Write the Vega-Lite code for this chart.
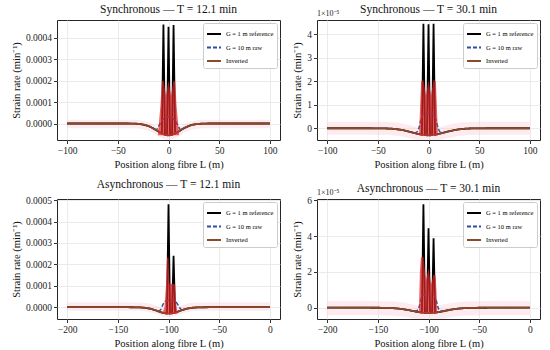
{
  "$schema": "https://vega.github.io/schema/vega-lite/v6.json",
  "padding": {"left": 10, "top": 3, "right": 3, "bottom": 3},
  "config": {
    "font": "Liberation Serif",
    "view": {"stroke": "#262626", "strokeWidth": 1},
    "axis": {"labelFont": "Liberation Serif", "titleFont": "Liberation Serif", "labelFontSize": 9.5, "titleFontSize": 10.5, "titleFontWeight": "normal", "labelColor": "#222222", "titleColor": "#111111", "tickColor": "#333333", "tickSize": 3.5, "domain": false, "grid": true, "gridColor": "#e6e6e6", "gridWidth": 0.8, "labelPadding": 2, "titlePadding": 4, "labelFlush": false, "labelOverlap": false},
    "title": {"font": "Liberation Serif", "fontSize": 11.5, "fontWeight": "normal", "offset": 5, "color": "#111111", "anchor": "middle"},
    "legend": {"orient": "top-right", "offset": 3, "title": null, "symbolType": "stroke", "symbolSize": 196, "symbolStrokeWidth": 1.8, "labelFont": "Liberation Serif", "labelFontSize": 6.5, "labelOffset": 4, "rowPadding": 1.5, "padding": 3, "strokeColor": "#cccccc", "fillColor": "#ffffff", "cornerRadius": 2}
  },
  "data": {"values": [
    {"p":"s12","s":"inv","x":-100,"y":0,"lo":-2.2e-5,"hi":1.8e-5},
    {"p":"s12","s":"inv","x":-40,"y":0,"lo":-2.2e-5,"hi":1.8e-5},
    {"p":"s12","s":"inv","x":-35,"y":-5e-7,"lo":-2.25e-5,"hi":1.75e-5},
    {"p":"s12","s":"inv","x":-30,"y":-1.6e-6,"lo":-2.36e-5,"hi":1.64e-5},
    {"p":"s12","s":"inv","x":-25,"y":-4.8e-6,"lo":-2.68e-5,"hi":1.32e-5},
    {"p":"s12","s":"inv","x":-21,"y":-9.8e-6,"lo":-3.18e-5,"hi":8.2e-6},
    {"p":"s12","s":"inv","x":-18,"y":-1.55e-5,"lo":-3.75e-5,"hi":2.5e-6},
    {"p":"s12","s":"inv","x":-15,"y":-2.28e-5,"lo":-4.48e-5,"hi":-4.8e-6},
    {"p":"s12","s":"inv","x":-12,"y":-3.13e-5,"lo":-5.33e-5,"hi":-1.33e-5},
    {"p":"s12","s":"inv","x":-10,"y":-3.72e-5,"lo":-5.92e-5,"hi":-1.92e-5},
    {"p":"s12","s":"inv","x":-8,"y":-4.28e-5,"lo":-6.48e-5,"hi":-2.48e-5},
    {"p":"s12","s":"inv","x":-6,"y":-4.78e-5,"lo":-6.98e-5,"hi":-2.98e-5},
    {"p":"s12","s":"inv","x":-4,"y":-5.17e-5,"lo":-7.37e-5,"hi":-3.37e-5},
    {"p":"s12","s":"inv","x":-2,"y":-5.41e-5,"lo":-7.61e-5,"hi":-3.61e-5},
    {"p":"s12","s":"inv","x":0,"y":-5.5e-5,"lo":-7.7e-5,"hi":-3.7e-5},
    {"p":"s12","s":"inv","x":2,"y":-5.41e-5,"lo":-7.61e-5,"hi":-3.61e-5},
    {"p":"s12","s":"inv","x":4,"y":-5.17e-5,"lo":-7.37e-5,"hi":-3.37e-5},
    {"p":"s12","s":"inv","x":6,"y":-4.78e-5,"lo":-6.98e-5,"hi":-2.98e-5},
    {"p":"s12","s":"inv","x":8,"y":-4.28e-5,"lo":-6.48e-5,"hi":-2.48e-5},
    {"p":"s12","s":"inv","x":10,"y":-3.72e-5,"lo":-5.92e-5,"hi":-1.92e-5},
    {"p":"s12","s":"inv","x":12,"y":-3.13e-5,"lo":-5.33e-5,"hi":-1.33e-5},
    {"p":"s12","s":"inv","x":15,"y":-2.28e-5,"lo":-4.48e-5,"hi":-4.8e-6},
    {"p":"s12","s":"inv","x":18,"y":-1.55e-5,"lo":-3.75e-5,"hi":2.5e-6},
    {"p":"s12","s":"inv","x":21,"y":-9.8e-6,"lo":-3.18e-5,"hi":8.2e-6},
    {"p":"s12","s":"inv","x":25,"y":-4.8e-6,"lo":-2.68e-5,"hi":1.32e-5},
    {"p":"s12","s":"inv","x":30,"y":-1.6e-6,"lo":-2.36e-5,"hi":1.64e-5},
    {"p":"s12","s":"inv","x":35,"y":-5e-7,"lo":-2.25e-5,"hi":1.75e-5},
    {"p":"s12","s":"inv","x":40,"y":0,"lo":-2.2e-5,"hi":1.8e-5},
    {"p":"s12","s":"inv","x":100,"y":0,"lo":-2.2e-5,"hi":1.8e-5},

    {"p":"s12","s":"ref","x":-100,"y":0},
    {"p":"s12","s":"ref","x":-40,"y":0},
    {"p":"s12","s":"ref","x":-35,"y":-5e-7},
    {"p":"s12","s":"ref","x":-30,"y":-1.6e-6},
    {"p":"s12","s":"ref","x":-25,"y":-4.8e-6},
    {"p":"s12","s":"ref","x":-21,"y":-9.8e-6},
    {"p":"s12","s":"ref","x":-18,"y":-1.55e-5},
    {"p":"s12","s":"ref","x":-15,"y":-2.28e-5},
    {"p":"s12","s":"ref","x":-12,"y":-3.13e-5},
    {"p":"s12","s":"ref","x":-10,"y":-3.72e-5},
    {"p":"s12","s":"ref","x":-8,"y":-4.28e-5},
    {"p":"s12","s":"ref","x":-6.5,"y":-4.66e-5},
    {"p":"s12","s":"ref","x":-5,"y":4.62e-4},
    {"p":"s12","s":"ref","x":-3.5,"y":-5.24e-5},
    {"p":"s12","s":"ref","x":-1.5,"y":-5.45e-5},
    {"p":"s12","s":"ref","x":0,"y":4.52e-4},
    {"p":"s12","s":"ref","x":1.5,"y":-5.45e-5},
    {"p":"s12","s":"ref","x":3.5,"y":-5.24e-5},
    {"p":"s12","s":"ref","x":5,"y":4.6e-4},
    {"p":"s12","s":"ref","x":6.5,"y":-4.66e-5},
    {"p":"s12","s":"ref","x":8,"y":-4.28e-5},
    {"p":"s12","s":"ref","x":10,"y":-3.72e-5},
    {"p":"s12","s":"ref","x":12,"y":-3.13e-5},
    {"p":"s12","s":"ref","x":15,"y":-2.28e-5},
    {"p":"s12","s":"ref","x":18,"y":-1.55e-5},
    {"p":"s12","s":"ref","x":21,"y":-9.8e-6},
    {"p":"s12","s":"ref","x":25,"y":-4.8e-6},
    {"p":"s12","s":"ref","x":30,"y":-1.6e-6},
    {"p":"s12","s":"ref","x":35,"y":-5e-7},
    {"p":"s12","s":"ref","x":40,"y":0},
    {"p":"s12","s":"ref","x":100,"y":0},

    {"p":"s12","s":"raw","x":-14,"y":-2.56e-5},
    {"p":"s12","s":"raw","x":-12,"y":-2.9e-5},
    {"p":"s12","s":"raw","x":-10,"y":-1.6e-5},
    {"p":"s12","s":"raw","x":-8,"y":2e-6},
    {"p":"s12","s":"raw","x":-6,"y":1.6e-5},
    {"p":"s12","s":"raw","x":-3,"y":2.9e-5},
    {"p":"s12","s":"raw","x":0,"y":3.2e-5},
    {"p":"s12","s":"raw","x":3,"y":2.9e-5},
    {"p":"s12","s":"raw","x":6,"y":1.6e-5},
    {"p":"s12","s":"raw","x":8,"y":2e-6},
    {"p":"s12","s":"raw","x":10,"y":-1.6e-5},
    {"p":"s12","s":"raw","x":12,"y":-2.9e-5},
    {"p":"s12","s":"raw","x":14,"y":-2.56e-5},

    {"p":"s12","s":"red","x":-10.5,"y":-5.5e-5,"y2":-5.5e-5},
    {"p":"s12","s":"red","x":-8,"y":8e-5,"y2":-5.5e-5},
    {"p":"s12","s":"red","x":-6.6,"y":1.95e-4,"y2":-5.5e-5},
    {"p":"s12","s":"red","x":-5,"y":2.02e-4,"y2":-5.5e-5},
    {"p":"s12","s":"red","x":-2.5,"y":1.3e-4,"y2":-5.5e-5},
    {"p":"s12","s":"red","x":0,"y":2.0e-4,"y2":-5.5e-5},
    {"p":"s12","s":"red","x":2.5,"y":1.3e-4,"y2":-5.5e-5},
    {"p":"s12","s":"red","x":5,"y":2.02e-4,"y2":-5.5e-5},
    {"p":"s12","s":"red","x":6.6,"y":1.95e-4,"y2":-5.5e-5},
    {"p":"s12","s":"red","x":8,"y":8e-5,"y2":-5.5e-5},
    {"p":"s12","s":"red","x":10.5,"y":-5.5e-5,"y2":-5.5e-5},

    {"p":"s30","s":"inv","x":-100,"y":0,"lo":-2.8e-6,"hi":2.8e-6},
    {"p":"s30","s":"inv","x":-60,"y":0,"lo":-2.8e-6,"hi":2.8e-6},
    {"p":"s30","s":"inv","x":-50,"y":-2e-8,"lo":-2.82e-6,"hi":2.78e-6},
    {"p":"s30","s":"inv","x":-40,"y":-1.1e-7,"lo":-2.91e-6,"hi":2.69e-6},
    {"p":"s30","s":"inv","x":-35,"y":-2.4e-7,"lo":-3.04e-6,"hi":2.56e-6},
    {"p":"s30","s":"inv","x":-30,"y":-4.7e-7,"lo":-3.27e-6,"hi":2.33e-6},
    {"p":"s30","s":"inv","x":-25,"y":-8.3e-7,"lo":-3.63e-6,"hi":1.97e-6},
    {"p":"s30","s":"inv","x":-20,"y":-1.31e-6,"lo":-4.11e-6,"hi":1.49e-6},
    {"p":"s30","s":"inv","x":-16,"y":-1.77e-6,"lo":-4.57e-6,"hi":1.03e-6},
    {"p":"s30","s":"inv","x":-13,"y":-2.12e-6,"lo":-4.92e-6,"hi":6.8e-7},
    {"p":"s30","s":"inv","x":-10,"y":-2.44e-6,"lo":-5.24e-6,"hi":3.6e-7},
    {"p":"s30","s":"inv","x":-8,"y":-2.63e-6,"lo":-5.43e-6,"hi":1.7e-7},
    {"p":"s30","s":"inv","x":-6,"y":-2.78e-6,"lo":-5.58e-6,"hi":2e-8},
    {"p":"s30","s":"inv","x":-4,"y":-2.9e-6,"lo":-5.7e-6,"hi":-1e-7},
    {"p":"s30","s":"inv","x":-2,"y":-2.98e-6,"lo":-5.78e-6,"hi":-1.8e-7},
    {"p":"s30","s":"inv","x":0,"y":-3e-6,"lo":-5.8e-6,"hi":-2e-7},
    {"p":"s30","s":"inv","x":2,"y":-2.98e-6,"lo":-5.78e-6,"hi":-1.8e-7},
    {"p":"s30","s":"inv","x":4,"y":-2.9e-6,"lo":-5.7e-6,"hi":-1e-7},
    {"p":"s30","s":"inv","x":6,"y":-2.78e-6,"lo":-5.58e-6,"hi":2e-8},
    {"p":"s30","s":"inv","x":8,"y":-2.63e-6,"lo":-5.43e-6,"hi":1.7e-7},
    {"p":"s30","s":"inv","x":10,"y":-2.44e-6,"lo":-5.24e-6,"hi":3.6e-7},
    {"p":"s30","s":"inv","x":13,"y":-2.12e-6,"lo":-4.92e-6,"hi":6.8e-7},
    {"p":"s30","s":"inv","x":16,"y":-1.77e-6,"lo":-4.57e-6,"hi":1.03e-6},
    {"p":"s30","s":"inv","x":20,"y":-1.31e-6,"lo":-4.11e-6,"hi":1.49e-6},
    {"p":"s30","s":"inv","x":25,"y":-8.3e-7,"lo":-3.63e-6,"hi":1.97e-6},
    {"p":"s30","s":"inv","x":30,"y":-4.7e-7,"lo":-3.27e-6,"hi":2.33e-6},
    {"p":"s30","s":"inv","x":35,"y":-2.4e-7,"lo":-3.04e-6,"hi":2.56e-6},
    {"p":"s30","s":"inv","x":40,"y":-1.1e-7,"lo":-2.91e-6,"hi":2.69e-6},
    {"p":"s30","s":"inv","x":50,"y":-2e-8,"lo":-2.82e-6,"hi":2.78e-6},
    {"p":"s30","s":"inv","x":60,"y":0,"lo":-2.8e-6,"hi":2.8e-6},
    {"p":"s30","s":"inv","x":100,"y":0,"lo":-2.8e-6,"hi":2.8e-6},

    {"p":"s30","s":"ref","x":-100,"y":0},
    {"p":"s30","s":"ref","x":-60,"y":0},
    {"p":"s30","s":"ref","x":-50,"y":-2e-8},
    {"p":"s30","s":"ref","x":-40,"y":-1.1e-7},
    {"p":"s30","s":"ref","x":-35,"y":-2.4e-7},
    {"p":"s30","s":"ref","x":-30,"y":-4.7e-7},
    {"p":"s30","s":"ref","x":-25,"y":-8.3e-7},
    {"p":"s30","s":"ref","x":-20,"y":-1.31e-6},
    {"p":"s30","s":"ref","x":-16,"y":-1.77e-6},
    {"p":"s30","s":"ref","x":-13,"y":-2.12e-6},
    {"p":"s30","s":"ref","x":-10,"y":-2.44e-6},
    {"p":"s30","s":"ref","x":-8,"y":-2.63e-6},
    {"p":"s30","s":"ref","x":-6.5,"y":-2.75e-6},
    {"p":"s30","s":"ref","x":-5,"y":4.45e-5},
    {"p":"s30","s":"ref","x":-3.5,"y":-2.92e-6},
    {"p":"s30","s":"ref","x":-1.5,"y":-2.99e-6},
    {"p":"s30","s":"ref","x":0,"y":4.43e-5},
    {"p":"s30","s":"ref","x":1.5,"y":-2.99e-6},
    {"p":"s30","s":"ref","x":3.5,"y":-2.92e-6},
    {"p":"s30","s":"ref","x":5,"y":4.45e-5},
    {"p":"s30","s":"ref","x":6.5,"y":-2.75e-6},
    {"p":"s30","s":"ref","x":8,"y":-2.63e-6},
    {"p":"s30","s":"ref","x":10,"y":-2.44e-6},
    {"p":"s30","s":"ref","x":13,"y":-2.12e-6},
    {"p":"s30","s":"ref","x":16,"y":-1.77e-6},
    {"p":"s30","s":"ref","x":20,"y":-1.31e-6},
    {"p":"s30","s":"ref","x":25,"y":-8.3e-7},
    {"p":"s30","s":"ref","x":30,"y":-4.7e-7},
    {"p":"s30","s":"ref","x":35,"y":-2.4e-7},
    {"p":"s30","s":"ref","x":40,"y":-1.1e-7},
    {"p":"s30","s":"ref","x":50,"y":-2e-8},
    {"p":"s30","s":"ref","x":60,"y":0},
    {"p":"s30","s":"ref","x":100,"y":0},

    {"p":"s30","s":"raw","x":-14,"y":-2.0e-6},
    {"p":"s30","s":"raw","x":-11.5,"y":-1.6e-6},
    {"p":"s30","s":"raw","x":-9.5,"y":0},
    {"p":"s30","s":"raw","x":-7.5,"y":3.5e-6},
    {"p":"s30","s":"raw","x":-5,"y":6.0e-6},
    {"p":"s30","s":"raw","x":0,"y":6.6e-6},
    {"p":"s30","s":"raw","x":5,"y":6.0e-6},
    {"p":"s30","s":"raw","x":7.5,"y":3.5e-6},
    {"p":"s30","s":"raw","x":9.5,"y":0},
    {"p":"s30","s":"raw","x":11.5,"y":-1.6e-6},
    {"p":"s30","s":"raw","x":14,"y":-2.0e-6},

    {"p":"s30","s":"red","x":-9.3,"y":-3e-6,"y2":-3e-6},
    {"p":"s30","s":"red","x":-8.2,"y":1.0e-5,"y2":-3e-6},
    {"p":"s30","s":"red","x":-7.3,"y":2.0e-5,"y2":-3e-6},
    {"p":"s30","s":"red","x":-5,"y":2.05e-5,"y2":-3e-6},
    {"p":"s30","s":"red","x":-2.5,"y":1.4e-5,"y2":-3e-6},
    {"p":"s30","s":"red","x":0,"y":2.05e-5,"y2":-3e-6},
    {"p":"s30","s":"red","x":2.5,"y":1.4e-5,"y2":-3e-6},
    {"p":"s30","s":"red","x":5,"y":2.05e-5,"y2":-3e-6},
    {"p":"s30","s":"red","x":7.3,"y":2.0e-5,"y2":-3e-6},
    {"p":"s30","s":"red","x":8.2,"y":1.0e-5,"y2":-3e-6},
    {"p":"s30","s":"red","x":9.3,"y":-3e-6,"y2":-3e-6},
    {"p":"s30","s":"exp","x":-110,"y":4.61e-5,"t":"1×10⁻⁵"},

    {"p":"a12","s":"inv","x":-200,"y":0,"lo":-1.6e-5,"hi":2.3e-5},
    {"p":"a12","s":"inv","x":-140,"y":0,"lo":-1.6e-5,"hi":2.3e-5},
    {"p":"a12","s":"inv","x":-130,"y":-5.5e-7,"lo":-1.655e-5,"hi":2.245e-5},
    {"p":"a12","s":"inv","x":-125,"y":-1.86e-6,"lo":-1.786e-5,"hi":2.114e-5},
    {"p":"a12","s":"inv","x":-120,"y":-5.07e-6,"lo":-2.107e-5,"hi":1.793e-5},
    {"p":"a12","s":"inv","x":-116,"y":-9.6e-6,"lo":-2.56e-5,"hi":1.34e-5},
    {"p":"a12","s":"inv","x":-113,"y":-1.42e-5,"lo":-3.02e-5,"hi":8.8e-6},
    {"p":"a12","s":"inv","x":-110,"y":-1.92e-5,"lo":-3.52e-5,"hi":3.8e-6},
    {"p":"a12","s":"inv","x":-108,"y":-2.26e-5,"lo":-3.86e-5,"hi":4e-7},
    {"p":"a12","s":"inv","x":-106,"y":-2.56e-5,"lo":-4.16e-5,"hi":-2.6e-6},
    {"p":"a12","s":"inv","x":-104,"y":-2.79e-5,"lo":-4.39e-5,"hi":-4.9e-6},
    {"p":"a12","s":"inv","x":-102,"y":-2.95e-5,"lo":-4.55e-5,"hi":-6.5e-6},
    {"p":"a12","s":"inv","x":-100,"y":-3.0e-5,"lo":-4.6e-5,"hi":-7e-6},
    {"p":"a12","s":"inv","x":-98,"y":-2.95e-5,"lo":-4.55e-5,"hi":-6.5e-6},
    {"p":"a12","s":"inv","x":-96,"y":-2.79e-5,"lo":-4.39e-5,"hi":-4.9e-6},
    {"p":"a12","s":"inv","x":-94,"y":-2.56e-5,"lo":-4.16e-5,"hi":-2.6e-6},
    {"p":"a12","s":"inv","x":-92,"y":-2.26e-5,"lo":-3.86e-5,"hi":4e-7},
    {"p":"a12","s":"inv","x":-90,"y":-1.92e-5,"lo":-3.52e-5,"hi":3.8e-6},
    {"p":"a12","s":"inv","x":-87,"y":-1.42e-5,"lo":-3.02e-5,"hi":8.8e-6},
    {"p":"a12","s":"inv","x":-84,"y":-9.6e-6,"lo":-2.56e-5,"hi":1.34e-5},
    {"p":"a12","s":"inv","x":-80,"y":-5.07e-6,"lo":-2.107e-5,"hi":1.793e-5},
    {"p":"a12","s":"inv","x":-75,"y":-1.86e-6,"lo":-1.786e-5,"hi":2.114e-5},
    {"p":"a12","s":"inv","x":-70,"y":-5.5e-7,"lo":-1.655e-5,"hi":2.245e-5},
    {"p":"a12","s":"inv","x":-60,"y":0,"lo":-1.6e-5,"hi":2.3e-5},
    {"p":"a12","s":"inv","x":0,"y":0,"lo":-1.6e-5,"hi":2.3e-5},

    {"p":"a12","s":"ref","x":-200,"y":0},
    {"p":"a12","s":"ref","x":-140,"y":0},
    {"p":"a12","s":"ref","x":-130,"y":-5.5e-7},
    {"p":"a12","s":"ref","x":-125,"y":-1.86e-6},
    {"p":"a12","s":"ref","x":-120,"y":-5.07e-6},
    {"p":"a12","s":"ref","x":-116,"y":-9.6e-6},
    {"p":"a12","s":"ref","x":-113,"y":-1.42e-5},
    {"p":"a12","s":"ref","x":-110,"y":-1.92e-5},
    {"p":"a12","s":"ref","x":-108,"y":-2.26e-5},
    {"p":"a12","s":"ref","x":-106,"y":-2.56e-5},
    {"p":"a12","s":"ref","x":-104,"y":-2.79e-5},
    {"p":"a12","s":"ref","x":-101.5,"y":-2.97e-5},
    {"p":"a12","s":"ref","x":-100,"y":4.8e-4},
    {"p":"a12","s":"ref","x":-98.5,"y":-2.97e-5},
    {"p":"a12","s":"ref","x":-96.5,"y":-2.84e-5},
    {"p":"a12","s":"ref","x":-95,"y":2.4e-4},
    {"p":"a12","s":"ref","x":-93.5,"y":-2.49e-5},
    {"p":"a12","s":"ref","x":-92,"y":-2.26e-5},
    {"p":"a12","s":"ref","x":-90,"y":-1.92e-5},
    {"p":"a12","s":"ref","x":-87,"y":-1.42e-5},
    {"p":"a12","s":"ref","x":-84,"y":-9.6e-6},
    {"p":"a12","s":"ref","x":-80,"y":-5.07e-6},
    {"p":"a12","s":"ref","x":-75,"y":-1.86e-6},
    {"p":"a12","s":"ref","x":-70,"y":-5.5e-7},
    {"p":"a12","s":"ref","x":-60,"y":0},
    {"p":"a12","s":"ref","x":0,"y":0},

    {"p":"a12","s":"raw","x":-110,"y":-1.92e-5},
    {"p":"a12","s":"raw","x":-107.5,"y":-1.0e-5},
    {"p":"a12","s":"raw","x":-105.5,"y":1.2e-5},
    {"p":"a12","s":"raw","x":-103.5,"y":2.6e-5},
    {"p":"a12","s":"raw","x":-100,"y":3.2e-5},
    {"p":"a12","s":"raw","x":-96,"y":3.3e-5},
    {"p":"a12","s":"raw","x":-93,"y":2.6e-5},
    {"p":"a12","s":"raw","x":-90.5,"y":1.0e-5},
    {"p":"a12","s":"raw","x":-88.5,"y":-6e-6},
    {"p":"a12","s":"raw","x":-86,"y":-1.25e-5},

    {"p":"a12","s":"red","x":-106,"y":-3e-5,"y2":-3e-5},
    {"p":"a12","s":"red","x":-104,"y":0,"y2":-3e-5},
    {"p":"a12","s":"red","x":-102.5,"y":1.0e-4,"y2":-3e-5},
    {"p":"a12","s":"red","x":-101.5,"y":2.3e-4,"y2":-3e-5},
    {"p":"a12","s":"red","x":-100,"y":2.32e-4,"y2":-3e-5},
    {"p":"a12","s":"red","x":-99,"y":1.1e-4,"y2":-3e-5},
    {"p":"a12","s":"red","x":-97,"y":1.1e-4,"y2":-3e-5},
    {"p":"a12","s":"red","x":-95.5,"y":1.1e-4,"y2":-3e-5},
    {"p":"a12","s":"red","x":-93.5,"y":1.05e-4,"y2":-3e-5},
    {"p":"a12","s":"red","x":-92.5,"y":2e-5,"y2":-3e-5},
    {"p":"a12","s":"red","x":-91,"y":-3e-5,"y2":-3e-5},

    {"p":"a30","s":"inv","x":-200,"y":0,"lo":-4.2e-6,"hi":3.7e-6},
    {"p":"a30","s":"inv","x":-160,"y":0,"lo":-4.2e-6,"hi":3.7e-6},
    {"p":"a30","s":"inv","x":-150,"y":-2e-8,"lo":-4.22e-6,"hi":3.68e-6},
    {"p":"a30","s":"inv","x":-140,"y":-1.1e-7,"lo":-4.31e-6,"hi":3.59e-6},
    {"p":"a30","s":"inv","x":-135,"y":-2.4e-7,"lo":-4.44e-6,"hi":3.46e-6},
    {"p":"a30","s":"inv","x":-130,"y":-4.7e-7,"lo":-4.67e-6,"hi":3.23e-6},
    {"p":"a30","s":"inv","x":-125,"y":-8.3e-7,"lo":-5.03e-6,"hi":2.87e-6},
    {"p":"a30","s":"inv","x":-120,"y":-1.31e-6,"lo":-5.51e-6,"hi":2.39e-6},
    {"p":"a30","s":"inv","x":-116,"y":-1.77e-6,"lo":-5.97e-6,"hi":1.93e-6},
    {"p":"a30","s":"inv","x":-113,"y":-2.12e-6,"lo":-6.32e-6,"hi":1.58e-6},
    {"p":"a30","s":"inv","x":-110,"y":-2.44e-6,"lo":-6.64e-6,"hi":1.26e-6},
    {"p":"a30","s":"inv","x":-108,"y":-2.63e-6,"lo":-6.83e-6,"hi":1.07e-6},
    {"p":"a30","s":"inv","x":-106,"y":-2.78e-6,"lo":-6.98e-6,"hi":9.2e-7},
    {"p":"a30","s":"inv","x":-104,"y":-2.9e-6,"lo":-7.1e-6,"hi":8e-7},
    {"p":"a30","s":"inv","x":-102,"y":-2.98e-6,"lo":-7.18e-6,"hi":7.2e-7},
    {"p":"a30","s":"inv","x":-100,"y":-3.0e-6,"lo":-7.2e-6,"hi":7e-7},
    {"p":"a30","s":"inv","x":-98,"y":-2.98e-6,"lo":-7.18e-6,"hi":7.2e-7},
    {"p":"a30","s":"inv","x":-96,"y":-2.9e-6,"lo":-7.1e-6,"hi":8e-7},
    {"p":"a30","s":"inv","x":-94,"y":-2.78e-6,"lo":-6.98e-6,"hi":9.2e-7},
    {"p":"a30","s":"inv","x":-92,"y":-2.63e-6,"lo":-6.83e-6,"hi":1.07e-6},
    {"p":"a30","s":"inv","x":-90,"y":-2.44e-6,"lo":-6.64e-6,"hi":1.26e-6},
    {"p":"a30","s":"inv","x":-87,"y":-2.12e-6,"lo":-6.32e-6,"hi":1.58e-6},
    {"p":"a30","s":"inv","x":-84,"y":-1.77e-6,"lo":-5.97e-6,"hi":1.93e-6},
    {"p":"a30","s":"inv","x":-80,"y":-1.31e-6,"lo":-5.51e-6,"hi":2.39e-6},
    {"p":"a30","s":"inv","x":-75,"y":-8.3e-7,"lo":-5.03e-6,"hi":2.87e-6},
    {"p":"a30","s":"inv","x":-70,"y":-4.7e-7,"lo":-4.67e-6,"hi":3.23e-6},
    {"p":"a30","s":"inv","x":-65,"y":-2.4e-7,"lo":-4.44e-6,"hi":3.46e-6},
    {"p":"a30","s":"inv","x":-60,"y":-1.1e-7,"lo":-4.31e-6,"hi":3.59e-6},
    {"p":"a30","s":"inv","x":-50,"y":-2e-8,"lo":-4.22e-6,"hi":3.68e-6},
    {"p":"a30","s":"inv","x":-40,"y":0,"lo":-4.2e-6,"hi":3.7e-6},
    {"p":"a30","s":"inv","x":0,"y":0,"lo":-4.2e-6,"hi":3.7e-6},

    {"p":"a30","s":"ref","x":-200,"y":0},
    {"p":"a30","s":"ref","x":-160,"y":0},
    {"p":"a30","s":"ref","x":-150,"y":-2e-8},
    {"p":"a30","s":"ref","x":-140,"y":-1.1e-7},
    {"p":"a30","s":"ref","x":-135,"y":-2.4e-7},
    {"p":"a30","s":"ref","x":-130,"y":-4.7e-7},
    {"p":"a30","s":"ref","x":-125,"y":-8.3e-7},
    {"p":"a30","s":"ref","x":-120,"y":-1.31e-6},
    {"p":"a30","s":"ref","x":-116,"y":-1.77e-6},
    {"p":"a30","s":"ref","x":-113,"y":-2.12e-6},
    {"p":"a30","s":"ref","x":-110,"y":-2.44e-6},
    {"p":"a30","s":"ref","x":-108,"y":-2.63e-6},
    {"p":"a30","s":"ref","x":-106.5,"y":-2.75e-6},
    {"p":"a30","s":"ref","x":-105,"y":5.78e-5},
    {"p":"a30","s":"ref","x":-103.5,"y":-2.92e-6},
    {"p":"a30","s":"ref","x":-101.5,"y":-2.99e-6},
    {"p":"a30","s":"ref","x":-100,"y":4.43e-5},
    {"p":"a30","s":"ref","x":-98.5,"y":-2.99e-6},
    {"p":"a30","s":"ref","x":-96.5,"y":-2.92e-6},
    {"p":"a30","s":"ref","x":-95,"y":3.88e-5},
    {"p":"a30","s":"ref","x":-93.5,"y":-2.75e-6},
    {"p":"a30","s":"ref","x":-92,"y":-2.63e-6},
    {"p":"a30","s":"ref","x":-90,"y":-2.44e-6},
    {"p":"a30","s":"ref","x":-87,"y":-2.12e-6},
    {"p":"a30","s":"ref","x":-84,"y":-1.77e-6},
    {"p":"a30","s":"ref","x":-80,"y":-1.31e-6},
    {"p":"a30","s":"ref","x":-75,"y":-8.3e-7},
    {"p":"a30","s":"ref","x":-70,"y":-4.7e-7},
    {"p":"a30","s":"ref","x":-65,"y":-2.4e-7},
    {"p":"a30","s":"ref","x":-60,"y":-1.1e-7},
    {"p":"a30","s":"ref","x":-50,"y":-2e-8},
    {"p":"a30","s":"ref","x":-40,"y":0},
    {"p":"a30","s":"ref","x":0,"y":0},

    {"p":"a30","s":"raw","x":-114,"y":-2.0e-6},
    {"p":"a30","s":"raw","x":-111.5,"y":-1.6e-6},
    {"p":"a30","s":"raw","x":-109.5,"y":0},
    {"p":"a30","s":"raw","x":-107.5,"y":4.5e-6},
    {"p":"a30","s":"raw","x":-105,"y":7.2e-6},
    {"p":"a30","s":"raw","x":-100,"y":7.4e-6},
    {"p":"a30","s":"raw","x":-95,"y":7.2e-6},
    {"p":"a30","s":"raw","x":-92.5,"y":4.5e-6},
    {"p":"a30","s":"raw","x":-90.5,"y":0},
    {"p":"a30","s":"raw","x":-88.5,"y":-1.6e-6},
    {"p":"a30","s":"raw","x":-86,"y":-2.0e-6},

    {"p":"a30","s":"red","x":-109.5,"y":-3e-6,"y2":-3e-6},
    {"p":"a30","s":"red","x":-108.5,"y":2.0e-5,"y2":-3e-6},
    {"p":"a30","s":"red","x":-107.5,"y":2.8e-5,"y2":-3e-6},
    {"p":"a30","s":"red","x":-105,"y":2.85e-5,"y2":-3e-6},
    {"p":"a30","s":"red","x":-102.5,"y":1.5e-5,"y2":-3e-6},
    {"p":"a30","s":"red","x":-100,"y":2.2e-5,"y2":-3e-6},
    {"p":"a30","s":"red","x":-97.5,"y":1.3e-5,"y2":-3e-6},
    {"p":"a30","s":"red","x":-95,"y":1.85e-5,"y2":-3e-6},
    {"p":"a30","s":"red","x":-93,"y":1.8e-5,"y2":-3e-6},
    {"p":"a30","s":"red","x":-92.2,"y":1.0e-5,"y2":-3e-6},
    {"p":"a30","s":"red","x":-91.3,"y":-3e-6,"y2":-3e-6},
    {"p":"a30","s":"exp","x":-210,"y":6.07e-5,"t":"1×10⁻⁵"}
  ]},
  "spacing": 8,
  "resolve": {"scale": {"color": "independent", "strokeDash": "independent"}, "legend": {"color": "independent", "strokeDash": "independent"}},
  "vconcat": [
    {
      "spacing": 11,
      "resolve": {"scale": {"color": "independent", "strokeDash": "independent"}, "legend": {"color": "independent", "strokeDash": "independent"}},
      "hconcat": [
        {
          "width": 223, "height": 120,
          "title": "Synchronous — T = 12.1 min",
          "transform": [{"filter": "datum.p == 's12'"}],
          "encoding": {
            "x": {"field": "x", "type": "quantitative", "scale": {"domain": [-110, 110], "nice": false, "zero": false}, "axis": {"values": [-100, -50, 0, 50, 100], "format": "d", "title": "Position along fibre L (m)"}},
            "y": {"field": "y", "type": "quantitative", "scale": {"domain": [-7.7e-5, 4.83e-4], "nice": false, "zero": false}, "axis": {"values": [0, 0.0001, 0.0002, 0.0003, 0.0004], "format": ".4f", "title": "Strain rate (min⁻¹)"}}
          },
          "layer": [
            {"transform": [{"filter": "datum.s == 'inv'"}], "mark": {"type": "area", "color": "#f9cdd8", "opacity": 0.4, "clip": true},
             "encoding": {"y": {"field": "lo", "type": "quantitative", "scale": {"domain": [-7.7e-5, 4.83e-4], "nice": false, "zero": false}, "axis": {"values": [0, 0.0001, 0.0002, 0.0003, 0.0004], "format": ".4f", "title": "Strain rate (min⁻¹)"}}, "y2": {"field": "hi"}}},
            {"transform": [{"filter": "datum.s == 'ref'"}], "mark": {"type": "line", "strokeWidth": 1.8, "clip": true},
             "encoding": {"color": {"datum": "ref", "type": "nominal", "scale": {"domain": ["ref", "raw", "inv"], "range": ["#000000", "#2c4f9e", "#8b4a2b"]}, "legend": {"labelExpr": "datum.label == 'ref' ? 'G = 1 m reference' : datum.label == 'raw' ? 'G = 10 m raw' : 'Inverted'"}}, "strokeDash": {"datum": "ref", "type": "nominal", "scale": {"domain": ["ref", "raw", "inv"], "range": [[1, 0], [4, 2], [1, 0]]}, "legend": {"labelExpr": "datum.label == 'ref' ? 'G = 1 m reference' : datum.label == 'raw' ? 'G = 10 m raw' : 'Inverted'"}}}},
            {"transform": [{"filter": "datum.s == 'raw'"}], "mark": {"type": "line", "strokeWidth": 1.5, "interpolate": "monotone", "clip": true},
             "encoding": {"color": {"datum": "raw", "type": "nominal"}, "strokeDash": {"datum": "raw", "type": "nominal"}}},
            {"transform": [{"filter": "datum.s == 'inv'"}], "mark": {"type": "line", "strokeWidth": 1.8, "interpolate": "monotone", "clip": true},
             "encoding": {"color": {"datum": "inv", "type": "nominal"}, "strokeDash": {"datum": "inv", "type": "nominal"}}},
            {"transform": [{"filter": "datum.s == 'red'"}], "mark": {"type": "area", "color": "#dc2626", "opacity": 0.72, "clip": true},
             "encoding": {"y2": {"field": "y2"}}}
          ]
        },
        {
          "width": 223, "height": 120,
          "title": {"text": "Synchronous — T = 30.1 min", "offset": -5},
          "transform": [{"filter": "datum.p == 's30'"}],
          "encoding": {
            "x": {"field": "x", "type": "quantitative", "scale": {"domain": [-110, 110], "nice": false, "zero": false}, "axis": {"values": [-100, -50, 0, 50, 100], "format": "d", "title": "Position along fibre L (m)"}},
            "y": {"field": "y", "type": "quantitative", "scale": {"domain": [-5.0e-6, 4.61e-5], "nice": false, "zero": false}, "axis": {"values": [0, 1e-5, 2e-5, 3e-5, 4e-5], "labelExpr": "format(datum.value*1e5, '.0f')", "title": "Strain rate (min⁻¹)"}}
          },
          "layer": [
            {"transform": [{"filter": "datum.s == 'inv'"}], "mark": {"type": "area", "color": "#f9cdd8", "opacity": 0.4, "clip": true},
             "encoding": {"y": {"field": "lo", "type": "quantitative", "scale": {"domain": [-5.0e-6, 4.61e-5], "nice": false, "zero": false}, "axis": {"values": [0, 1e-5, 2e-5, 3e-5, 4e-5], "labelExpr": "format(datum.value*1e5, '.0f')", "title": "Strain rate (min⁻¹)"}}, "y2": {"field": "hi"}}},
            {"transform": [{"filter": "datum.s == 'ref'"}], "mark": {"type": "line", "strokeWidth": 1.8, "clip": true},
             "encoding": {"color": {"datum": "ref", "type": "nominal", "scale": {"domain": ["ref", "raw", "inv"], "range": ["#000000", "#2c4f9e", "#8b4a2b"]}, "legend": {"labelExpr": "datum.label == 'ref' ? 'G = 1 m reference' : datum.label == 'raw' ? 'G = 10 m raw' : 'Inverted'"}}, "strokeDash": {"datum": "ref", "type": "nominal", "scale": {"domain": ["ref", "raw", "inv"], "range": [[1, 0], [4, 2], [1, 0]]}, "legend": {"labelExpr": "datum.label == 'ref' ? 'G = 1 m reference' : datum.label == 'raw' ? 'G = 10 m raw' : 'Inverted'"}}}},
            {"transform": [{"filter": "datum.s == 'raw'"}], "mark": {"type": "line", "strokeWidth": 1.5, "interpolate": "monotone", "clip": true},
             "encoding": {"color": {"datum": "raw", "type": "nominal"}, "strokeDash": {"datum": "raw", "type": "nominal"}}},
            {"transform": [{"filter": "datum.s == 'inv'"}], "mark": {"type": "line", "strokeWidth": 1.8, "interpolate": "monotone", "clip": true},
             "encoding": {"color": {"datum": "inv", "type": "nominal"}, "strokeDash": {"datum": "inv", "type": "nominal"}}},
            {"transform": [{"filter": "datum.s == 'red'"}], "mark": {"type": "area", "color": "#dc2626", "opacity": 0.72, "clip": true},
             "encoding": {"y2": {"field": "y2"}}},
            {"transform": [{"filter": "datum.s == 'exp'"}], "mark": {"type": "text", "align": "left", "baseline": "bottom", "dy": -2, "fontSize": 8, "font": "Liberation Serif", "color": "#222222"},
             "encoding": {"text": {"field": "t"}}}
          ]
        }
      ]
    },
    {
      "spacing": 11,
      "resolve": {"scale": {"color": "independent", "strokeDash": "independent"}, "legend": {"color": "independent", "strokeDash": "independent"}},
      "hconcat": [
        {
          "width": 223, "height": 120,
          "title": "Asynchronous — T = 12.1 min",
          "transform": [{"filter": "datum.p == 'a12'"}],
          "encoding": {
            "x": {"field": "x", "type": "quantitative", "scale": {"domain": [-210, 10], "nice": false, "zero": false}, "axis": {"values": [-200, -150, -100, -50, 0], "format": "d", "title": "Position along fibre L (m)"}},
            "y": {"field": "y", "type": "quantitative", "scale": {"domain": [-5.5e-5, 5.05e-4], "nice": false, "zero": false}, "axis": {"values": [0, 0.0001, 0.0002, 0.0003, 0.0004, 0.0005], "format": ".4f", "title": "Strain rate (min⁻¹)"}}
          },
          "layer": [
            {"transform": [{"filter": "datum.s == 'inv'"}], "mark": {"type": "area", "color": "#f9cdd8", "opacity": 0.4, "clip": true},
             "encoding": {"y": {"field": "lo", "type": "quantitative", "scale": {"domain": [-5.5e-5, 5.05e-4], "nice": false, "zero": false}, "axis": {"values": [0, 0.0001, 0.0002, 0.0003, 0.0004, 0.0005], "format": ".4f", "title": "Strain rate (min⁻¹)"}}, "y2": {"field": "hi"}}},
            {"transform": [{"filter": "datum.s == 'ref'"}], "mark": {"type": "line", "strokeWidth": 1.8, "clip": true},
             "encoding": {"color": {"datum": "ref", "type": "nominal", "scale": {"domain": ["ref", "raw", "inv"], "range": ["#000000", "#2c4f9e", "#8b4a2b"]}, "legend": {"labelExpr": "datum.label == 'ref' ? 'G = 1 m reference' : datum.label == 'raw' ? 'G = 10 m raw' : 'Inverted'"}}, "strokeDash": {"datum": "ref", "type": "nominal", "scale": {"domain": ["ref", "raw", "inv"], "range": [[1, 0], [4, 2], [1, 0]]}, "legend": {"labelExpr": "datum.label == 'ref' ? 'G = 1 m reference' : datum.label == 'raw' ? 'G = 10 m raw' : 'Inverted'"}}}},
            {"transform": [{"filter": "datum.s == 'raw'"}], "mark": {"type": "line", "strokeWidth": 1.5, "interpolate": "monotone", "clip": true},
             "encoding": {"color": {"datum": "raw", "type": "nominal"}, "strokeDash": {"datum": "raw", "type": "nominal"}}},
            {"transform": [{"filter": "datum.s == 'inv'"}], "mark": {"type": "line", "strokeWidth": 1.8, "interpolate": "monotone", "clip": true},
             "encoding": {"color": {"datum": "inv", "type": "nominal"}, "strokeDash": {"datum": "inv", "type": "nominal"}}},
            {"transform": [{"filter": "datum.s == 'red'"}], "mark": {"type": "area", "color": "#dc2626", "opacity": 0.72, "clip": true},
             "encoding": {"y2": {"field": "y2"}}}
          ]
        },
        {
          "width": 223, "height": 120,
          "title": {"text": "Asynchronous — T = 30.1 min", "offset": -5},
          "transform": [{"filter": "datum.p == 'a30'"}],
          "encoding": {
            "x": {"field": "x", "type": "quantitative", "scale": {"domain": [-210, 10], "nice": false, "zero": false}, "axis": {"values": [-200, -150, -100, -50, 0], "format": "d", "title": "Position along fibre L (m)"}},
            "y": {"field": "y", "type": "quantitative", "scale": {"domain": [-6.3e-6, 6.07e-5], "nice": false, "zero": false}, "axis": {"values": [0, 2e-5, 4e-5, 6e-5], "labelExpr": "format(datum.value*1e5, '.0f')", "title": "Strain rate (min⁻¹)"}}
          },
          "layer": [
            {"transform": [{"filter": "datum.s == 'inv'"}], "mark": {"type": "area", "color": "#f9cdd8", "opacity": 0.4, "clip": true},
             "encoding": {"y": {"field": "lo", "type": "quantitative", "scale": {"domain": [-6.3e-6, 6.07e-5], "nice": false, "zero": false}, "axis": {"values": [0, 2e-5, 4e-5, 6e-5], "labelExpr": "format(datum.value*1e5, '.0f')", "title": "Strain rate (min⁻¹)"}}, "y2": {"field": "hi"}}},
            {"transform": [{"filter": "datum.s == 'ref'"}], "mark": {"type": "line", "strokeWidth": 1.8, "clip": true},
             "encoding": {"color": {"datum": "ref", "type": "nominal", "scale": {"domain": ["ref", "raw", "inv"], "range": ["#000000", "#2c4f9e", "#8b4a2b"]}, "legend": {"labelExpr": "datum.label == 'ref' ? 'G = 1 m reference' : datum.label == 'raw' ? 'G = 10 m raw' : 'Inverted'"}}, "strokeDash": {"datum": "ref", "type": "nominal", "scale": {"domain": ["ref", "raw", "inv"], "range": [[1, 0], [4, 2], [1, 0]]}, "legend": {"labelExpr": "datum.label == 'ref' ? 'G = 1 m reference' : datum.label == 'raw' ? 'G = 10 m raw' : 'Inverted'"}}}},
            {"transform": [{"filter": "datum.s == 'raw'"}], "mark": {"type": "line", "strokeWidth": 1.5, "interpolate": "monotone", "clip": true},
             "encoding": {"color": {"datum": "raw", "type": "nominal"}, "strokeDash": {"datum": "raw", "type": "nominal"}}},
            {"transform": [{"filter": "datum.s == 'inv'"}], "mark": {"type": "line", "strokeWidth": 1.8, "interpolate": "monotone", "clip": true},
             "encoding": {"color": {"datum": "inv", "type": "nominal"}, "strokeDash": {"datum": "inv", "type": "nominal"}}},
            {"transform": [{"filter": "datum.s == 'red'"}], "mark": {"type": "area", "color": "#dc2626", "opacity": 0.72, "clip": true},
             "encoding": {"y2": {"field": "y2"}}},
            {"transform": [{"filter": "datum.s == 'exp'"}], "mark": {"type": "text", "align": "left", "baseline": "bottom", "dy": -2, "fontSize": 8, "font": "Liberation Serif", "color": "#222222"},
             "encoding": {"text": {"field": "t"}}}
          ]
        }
      ]
    }
  ]
}
